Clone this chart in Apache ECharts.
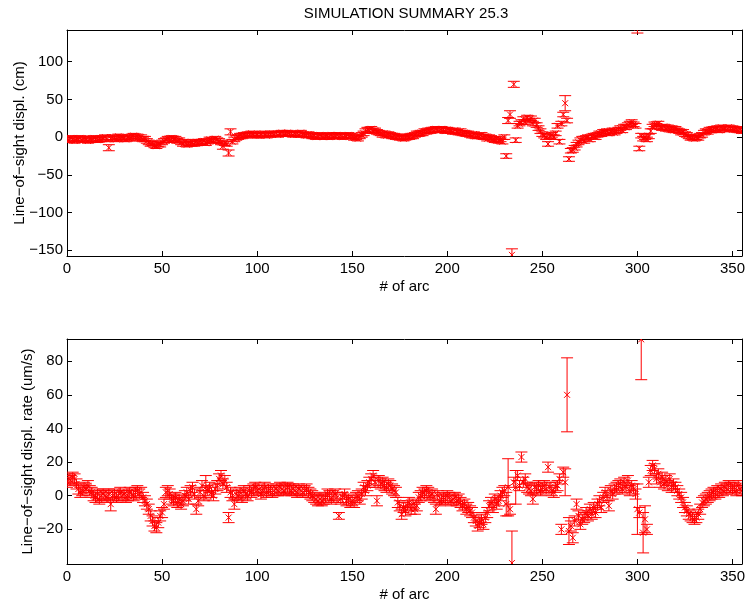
<!DOCTYPE html>
<html><head><meta charset="utf-8">
<script src="https://cdn.jsdelivr.net/npm/echarts@6/dist/echarts.min.js"></script>
<style>html,body{margin:0;padding:0;background:#fff}#c{width:748px;height:605px}</style>
</head><body><div id="c"></div>
<script>
const chartTitle = 'SIMULATION SUMMARY 25.3';
const xLabel = '# of arc';
const yLabelTop = 'Line\u2212of\u2212sight displ. (cm)';
const yLabelBot = 'Line\u2212of\u2212sight displ. rate (um/s)';
const xTicks = [0, 50, 100, 150, 200, 250, 300, 350];
const yTicksTop = [-150, -100, -50, 0, 50, 100];
const yTicksBot = [-20, 0, 20, 40, 60, 80];

// line-of-sight displacement (cm), arcs 0..355
const displ = [
 -2,-4,-1,-3,-5,-2,-3,-1,-4,-2,
 -3,-5,-2,-4,-1,-3,-4,-2,-3,-1,
 0,-3,-14,-2,0,-1,-3,1,-2,0,
 -1,-3,0,-2,1,2,-1,1,-2,0,
 -3,-2,-5,-7,-9,-8,-11,-12,-9,-10,
 -7,-5,-4,-2,-4,-1,-3,-2,-5,-4,
 -7,-9,-6,-10,-8,-9,-7,-9,-6,-8,
 -6,-7,-5,-8,-6,-3,-4,-5,-2,-4,
 -5,-7,-12,-8,-9,-21,7,-6,-3,-1,
 0,2,1,3,2,4,3,5,4,2,
 3,2,4,5,3,2,4,3,5,4,
 5,3,4,6,4,5,6,4,5,3,
 4,5,3,6,4,3,2,4,3,1,
 2,0,1,3,2,0,1,2,0,3,
 1,2,3,1,2,0,2,1,3,2,
 1,-1,0,-2,1,3,5,8,10,9,
 11,8,9,7,6,5,3,5,2,4,
 3,1,2,0,1,-1,0,-2,-1,1,
 0,2,1,3,5,4,6,5,8,7,
 9,8,10,9,11,10,9,11,10,8,
 10,9,8,7,9,7,6,8,5,6,
 4,5,3,2,4,1,2,1,3,0,
 1,-2,0,-1,-3,-4,-2,-5,-3,-6,
 0,-25,22,30,-156,70,-4,15,18,20,
 24,20,26,22,25,18,22,16,12,8,
 4,2,0,-9,1,3,0,5,15,-6,
 18,30,45,22,-29,-18,-17,-14,-10,-7,
 -4,-2,-5,-1,0,-3,1,2,0,3,
 5,4,7,6,8,5,7,9,6,8,
 10,12,9,14,13,16,18,20,17,15,
 145,-15,2,-2,0,-3,1,8,14,17,
 15,18,13,12,14,11,13,10,12,9,
 11,9,8,6,7,4,3,1,-1,0,
 -2,0,-1,2,3,6,8,7,10,9,
 11,10,12,9,13,11,12,10,13,11,
 12,10,11,9,10,8
];
const displErr = [
 3,3,3,3,3,3,3,3,3,3,3,3,3,3,3,3,3,3,3,3,
 3,3,4,3,3,3,3,3,3,3,3,3,3,3,3,3,3,3,3,3,
 3,3,3,3,3,3,3,3,3,3,3,3,3,3,3,3,3,3,3,3,
 3,3,3,3,3,3,3,3,3,3,3,3,3,3,3,3,3,3,3,3,
 3,3,4,3,3,4,4,3,3,3,3,3,3,3,3,3,3,3,3,3,
 3,3,3,3,3,3,3,3,3,3,3,3,3,3,3,3,3,3,3,3,
 3,3,3,3,3,3,3,3,3,3,3,3,3,3,3,3,3,3,3,3,
 3,3,3,3,3,3,3,3,3,3,3,3,3,3,3,3,3,3,3,3,
 3,3,3,3,3,3,3,3,3,3,3,3,3,3,3,3,3,3,3,3,
 3,3,3,3,3,3,3,3,3,3,3,3,3,3,3,3,3,3,3,3,
 3,3,3,3,3,3,3,3,3,3,3,3,3,3,3,3,3,3,3,3,
 3,3,3,3,3,3,3,3,3,3,3,3,4,5,8,4,3,3,3,3,
 3,3,3,3,3,3,3,3,3,3,3,3,3,3,3,3,3,3,3,3,
 3,3,10,3,3,3,3,3,3,3,3,3,3,3,3,3,3,3,3,3,
 3,3,3,3,3,3,3,3,3,3,3,3,3,3,3,3,3,3,3,3,
 7,3,3,3,3,3,3,3,3,3,3,3,3,3,3,3,3,3,3,3,
 3,3,3,3,3,3,3,3,3,3,3,3,3,3,3,3,3,3,3,3,
 3,3,3,3,3,3,3,3,3,3,3,3,3,3,3,3
];

// line-of-sight displacement rate (um/s), arcs 0..355
const rate = [
 8,10,9,11,10,7,4,2,3,5,
 4,6,3,2,0,-1,1,-2,0,1,
 0,-1,1,-5,0,1,-1,0,2,0,
 1,-1,0,2,1,0,2,3,1,2,
 -1,-3,-5,-8,-12,-15,-18,-19,-16,-12,
 -10,-5,2,3,1,-2,-3,-1,-4,-2,
 -5,-3,0,2,-2,3,5,1,-8,-3,
 2,6,0,5,3,5,2,0,4,6,
 10,12,7,9,5,-13,2,0,-5,1,
 0,2,-1,3,1,0,3,2,4,5,
 3,4,1,3,5,2,4,3,2,3,
 4,3,5,4,3,4,5,4,3,4,
 3,2,4,3,2,3,4,2,1,0,
 -1,-2,-3,-2,-3,-2,-1,1,0,-2,
 0,1,-1,-12,-2,-1,1,-3,-2,-4,
 -3,-4,-1,0,-2,1,5,3,6,8,
 10,12,8,-3,9,7,8,6,5,7,
 6,4,3,2,-4,-6,-11,-7,-9,-6,
 -4,-8,-5,-8,-6,-1,0,2,1,3,
 2,0,1,-1,-8,0,-3,-2,-1,-2,
 0,-1,-3,-2,-1,-3,-2,-4,-6,-5,
 -8,-7,-9,-10,-13,-15,-18,-16,-14,-17,
 -13,-10,-6,-4,-7,-2,-5,-3,0,2,
 3,-5,5,-8,-40,8,5,12,6,23,
 8,10,5,4,3,-2,5,4,6,3,
 5,6,4,17,5,3,2,5,6,10,
 -20,14,8,60,-21,-18,-25,-15,-5,-12,
 -17,-14,-13,-10,-12,-8,-11,-7,-10,-5,
 -3,-7,-1,2,0,-6,3,1,4,5,
 6,7,4,8,5,9,3,6,4,1,
 -8,-10,93,-22,-14,-20,8,15,18,16,
 10,13,8,11,7,9,6,10,5,7,
 5,3,1,-1,-4,-7,-9,-11,-12,-13,
 -14,-13,-11,-8,-4,-3,-2,-1,0,1,
 2,1,3,2,4,3,5,4,6,5,
 4,5,3,6,4,3
];
const rateErr = [
 3,3,3,3,3,3,3,3,3,3,3,3,3,3,3,3,3,3,3,3,
 3,3,3,4,3,3,3,3,3,3,3,3,3,3,3,3,3,3,3,3,
 3,3,3,3,3,3,3,3,3,3,3,3,3,3,3,3,3,3,3,3,
 3,3,3,3,3,3,3,3,3,3,3,3,3,7,3,3,3,3,3,3,
 3,3,3,3,3,3,3,3,3,3,3,3,3,3,3,3,3,3,3,3,
 3,3,3,3,3,3,3,3,3,3,3,3,3,3,3,3,3,3,3,3,
 3,3,3,3,3,3,3,3,3,3,3,3,3,3,3,3,3,3,3,3,
 3,3,3,2,3,3,3,3,3,3,3,3,3,3,3,3,3,3,3,3,
 3,3,3,3,3,3,3,3,3,3,3,3,3,3,3,3,3,3,3,3,
 3,3,3,3,3,3,3,3,3,3,3,3,3,3,3,3,3,3,3,3,
 3,3,3,3,3,3,3,3,3,3,3,3,3,3,3,3,3,3,3,3,
 3,3,3,3,3,3,3,3,3,3,3,7,17,3,19,3,10,3,3,3,
 3,3,3,3,3,3,3,3,3,3,3,3,3,3,3,3,3,3,3,3,
 3,3,8,22,8,3,3,3,3,3,3,3,3,3,3,3,3,3,3,3,
 3,3,3,3,3,3,3,3,3,3,3,3,3,3,3,3,3,3,3,3,
 15,3,24,12,8,3,3,3,3,3,3,3,3,3,3,3,3,3,3,3,
 3,3,3,3,3,3,3,3,3,3,3,3,3,3,3,3,3,3,3,3,
 3,3,3,3,3,3,3,3,3,3,3,3,3,3,3,3
];
const arcs = displ.map((_, i) => i);

const FONT = '"Liberation Sans", Arial, Helvetica, sans-serif';
const RED = '#ff0000';
const minus = v => String(v).replace('-', '\u2212');

function renderErr(params, api) {
  const x = api.value(0), y = api.value(1), e = api.value(2);
  const c = api.coord([x, y]);
  const hi = api.coord([x, y + e])[1];
  const lo = api.coord([x, y - e])[1];
  const cw = 6, m = 3;
  const st = { stroke: RED, lineWidth: 1, fill: null };
  const seg = (x1, y1, x2, y2) => ({ type: 'line', shape: { x1, y1, x2, y2 }, style: st });
  return { type: 'group', children: [
    seg(c[0], hi, c[0], lo),
    seg(c[0] - cw, hi, c[0] + cw, hi),
    seg(c[0] - cw, lo, c[0] + cw, lo),
    seg(c[0] - m, c[1] - m, c[0] + m, c[1] + m),
    seg(c[0] - m, c[1] + m, c[0] + m, c[1] - m)
  ]};
}

function xAx(grid, pos, labels) {
  return {
    type: 'value', gridIndex: grid, position: pos, min: 0, max: 355,
    axisLine: { show: true, onZero: false, lineStyle: { color: '#000', width: 1 } },
    axisTick: { show: true, inside: true, length: 5, customValues: xTicks, lineStyle: { color: '#000' } },
    axisLabel: { show: labels, customValues: xTicks, margin: 5, color: '#000', fontSize: 15, fontFamily: FONT },
    splitLine: { show: false },
    name: labels ? xLabel : '', nameLocation: 'middle', nameGap: 23, nameMoveOverlap: false,
    nameTextStyle: { color: '#000', fontSize: 15, fontFamily: FONT }
  };
}
function yAx(grid, pos, labels, mn, mx, ticks, name, gap) {
  return {
    type: 'value', gridIndex: grid, position: pos, min: mn, max: mx,
    axisLine: { show: true, onZero: false, lineStyle: { color: '#000', width: 1 } },
    axisTick: { show: true, inside: true, length: 5, customValues: ticks, lineStyle: { color: '#000' } },
    axisLabel: { show: labels, customValues: ticks, margin: 4, color: '#000', fontSize: 15, fontFamily: FONT, formatter: minus },
    splitLine: { show: false },
    name: labels ? name : '', nameLocation: 'middle', nameGap: gap, nameMoveOverlap: false,
    nameTextStyle: { color: '#000', fontSize: 15, fontFamily: FONT }
  };
}

const chart = echarts.init(document.getElementById('c'), null, { renderer: 'canvas' });
chart.setOption({
  animation: false,
  backgroundColor: '#fff',
  grid: [
    { left: 67, right: 3, top: 30, height: 226 },
    { left: 67, right: 3, top: 339, height: 225 }
  ],
  xAxis: [ xAx(0, 'bottom', true), xAx(0, 'top', false), xAx(1, 'bottom', true), xAx(1, 'top', false) ],
  yAxis: [
    yAx(0, 'left', true, -157.5, 142, yTicksTop, yLabelTop, 40),
    yAx(0, 'right', false, -157.5, 142, yTicksTop, '', 0),
    yAx(1, 'left', true, -40.6, 93.2, yTicksBot, yLabelBot, 32),
    yAx(1, 'right', false, -40.6, 93.2, yTicksBot, '', 0)
  ],
  graphic: [{
    type: 'text', x: 406, y: 14,
    style: { text: chartTitle, align: 'center', verticalAlign: 'middle', fill: '#000', fontSize: 15, fontFamily: FONT }
  }],
  series: [
    { type: 'custom', xAxisIndex: 0, yAxisIndex: 0, clip: true, renderItem: renderErr,
      encode: { x: 0, y: 1 }, data: arcs.map((a, i) => [a, displ[i], displErr[i]]) },
    { type: 'custom', xAxisIndex: 2, yAxisIndex: 2, clip: true, renderItem: renderErr,
      encode: { x: 0, y: 1 }, data: arcs.map((a, i) => [a, rate[i], rateErr[i]]) }
  ]
});
</script>
</body></html>
